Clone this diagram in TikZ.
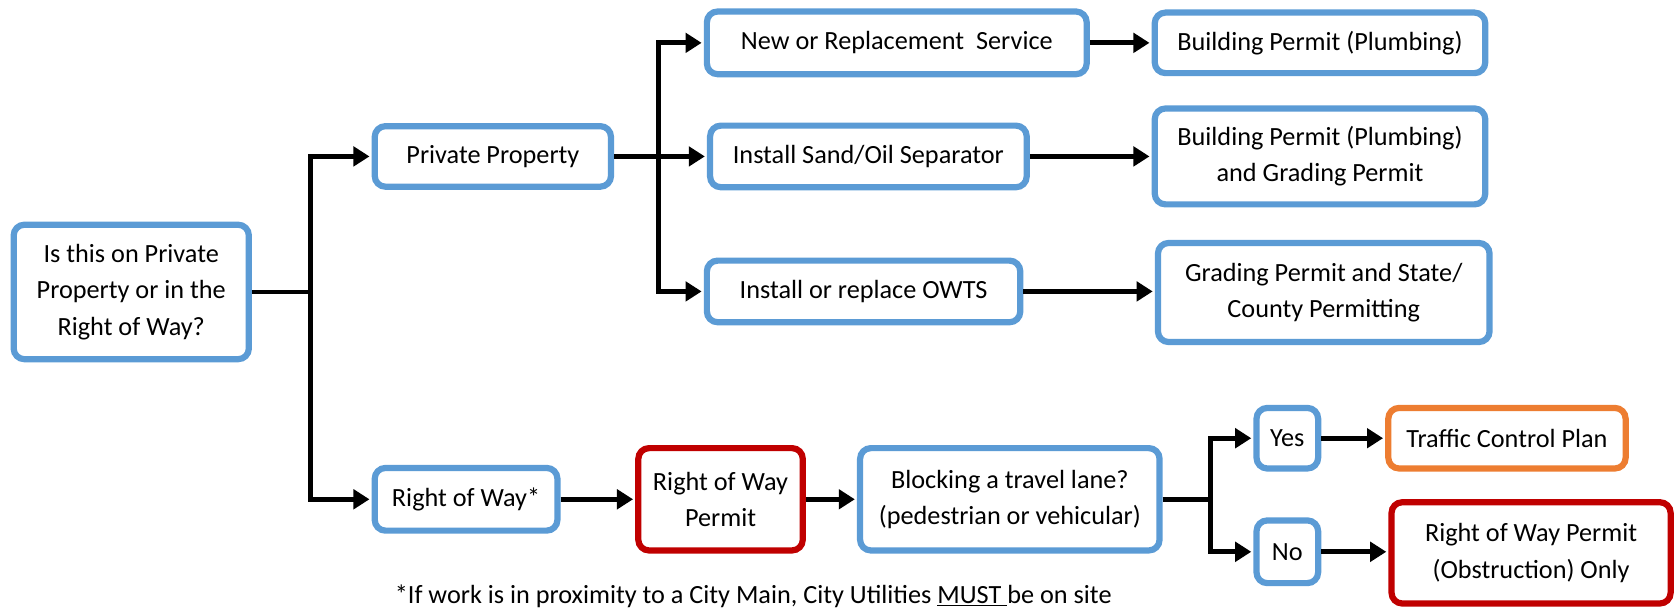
\documentclass[tikz,border=0pt]{standalone}
\usepackage{fontspec}
\setmainfont{Carlito}
\usetikzlibrary{arrows.meta}
\definecolor{boxblue}{HTML}{5B9BD5}
\definecolor{boxred}{HTML}{C00000}
\definecolor{boxorange}{HTML}{ED7D31}

\begin{document}
\begin{tikzpicture}[x=1pt,y=-1pt]
		\tikzset{box/.style = {draw=boxblue, line width=5.8pt, rounded corners=10pt, fill=white, align=center, inner sep=0pt, font=\fontsize{24.5}{34}\selectfont},
			redbox/.style = {box, draw=boxred},
			orangebox/.style = {box, draw=boxorange},
			link/.style = {line width=4.6pt},
			edge/.style = {link, -{Triangle[length=15pt,width=18pt]}, shorten >=2pt}}
		\useasboundingbox (0,0) rectangle (1568,572);
		\node[box, minimum width=219.5pt, minimum height=125.5pt] (A) at (122.5,272.5) {Is this on Private\\Property or in the\\Right of Way?};
		\node[box, minimum width=220.5pt, minimum height=56.5pt] (B) at (460,146) {Private Property};
		\node[box, minimum width=170.5pt, minimum height=58.5pt] (C) at (435,466) {Right of Way*};
		\node[box, minimum width=354.5pt, minimum height=58.5pt] (D) at (837,40) {New or Replacement~ Service};
		\node[box, minimum width=295.5pt, minimum height=57.5pt] (E) at (810.5,146) {Install Sand/Oil Separator};
		\node[box, minimum width=292.5pt, minimum height=57.5pt] (F) at (806,272) {Install or replace OWTS};
		\node[box, minimum width=308.5pt, minimum height=56.5pt] (G) at (1232,40) {Building Permit (Plumbing)};
		\node[box, minimum width=308.5pt, minimum height=89.5pt] (H) at (1232,146) {Building Permit (Plumbing)\\and Grading Permit};
		\node[box, minimum width=309.5pt, minimum height=92.5pt] (I) at (1235.5,273) {Grading Permit and State/\\County Permitting};
		\node[redbox, minimum width=153.5pt, minimum height=95.5pt] (J) at (672.5,466) {Right of Way\\Permit};
		\node[box, minimum width=279.5pt, minimum height=95.5pt] (K) at (942.5,466) {Blocking a travel lane?\\(pedestrian or vehicular)};
		\node[box, minimum width=57.5pt, minimum height=56.5pt] (L) at (1201.5,409) {Yes};
		\node[orangebox, minimum width=221.5pt, minimum height=56.5pt] (M) at (1406.5,409) {Traffic Control Plan};
		\node[box, minimum width=57.5pt, minimum height=58.5pt] (N) at (1201.5,515) {No};
		\node[redbox, minimum width=260.5pt, minimum height=94.5pt] (O) at (1429,516) {Right of Way Permit\\(Obstruction) Only};
		\node[font=\fontsize{24.5}{34}\selectfont] (P) at (703,557) {*If work is in proximity to a City Main, City Utilities \underline{MUST\ }be on site};
		\coordinate (T1) at (290,272.5);
		\coordinate (T2) at (615,146);
		\coordinate (T3) at (1130,466);
		\draw[link] (A) -- (T1);
		\draw[edge] (T1) |- (B);
		\draw[edge] (T1) |- (C);
		\draw[edge] (B) -- (E);
		\draw[edge] (T2) |- (D);
		\draw[edge] (T2) |- (F);
		\draw[edge] (D) -- (G);
		\draw[edge] (E) -- (H);
		\draw[edge] (F) -- (F -| I.west);
		\draw[edge] (C) -- (J);
		\draw[edge] (J) -- (K);
		\draw[link] (K) -- (T3);
		\draw[edge] (T3) |- (L);
		\draw[edge] (T3) |- (N);
		\draw[edge] (L) -- (M);
		\draw[edge] (N) -- (N -| O.west);
	\end{tikzpicture}
\end{document}
